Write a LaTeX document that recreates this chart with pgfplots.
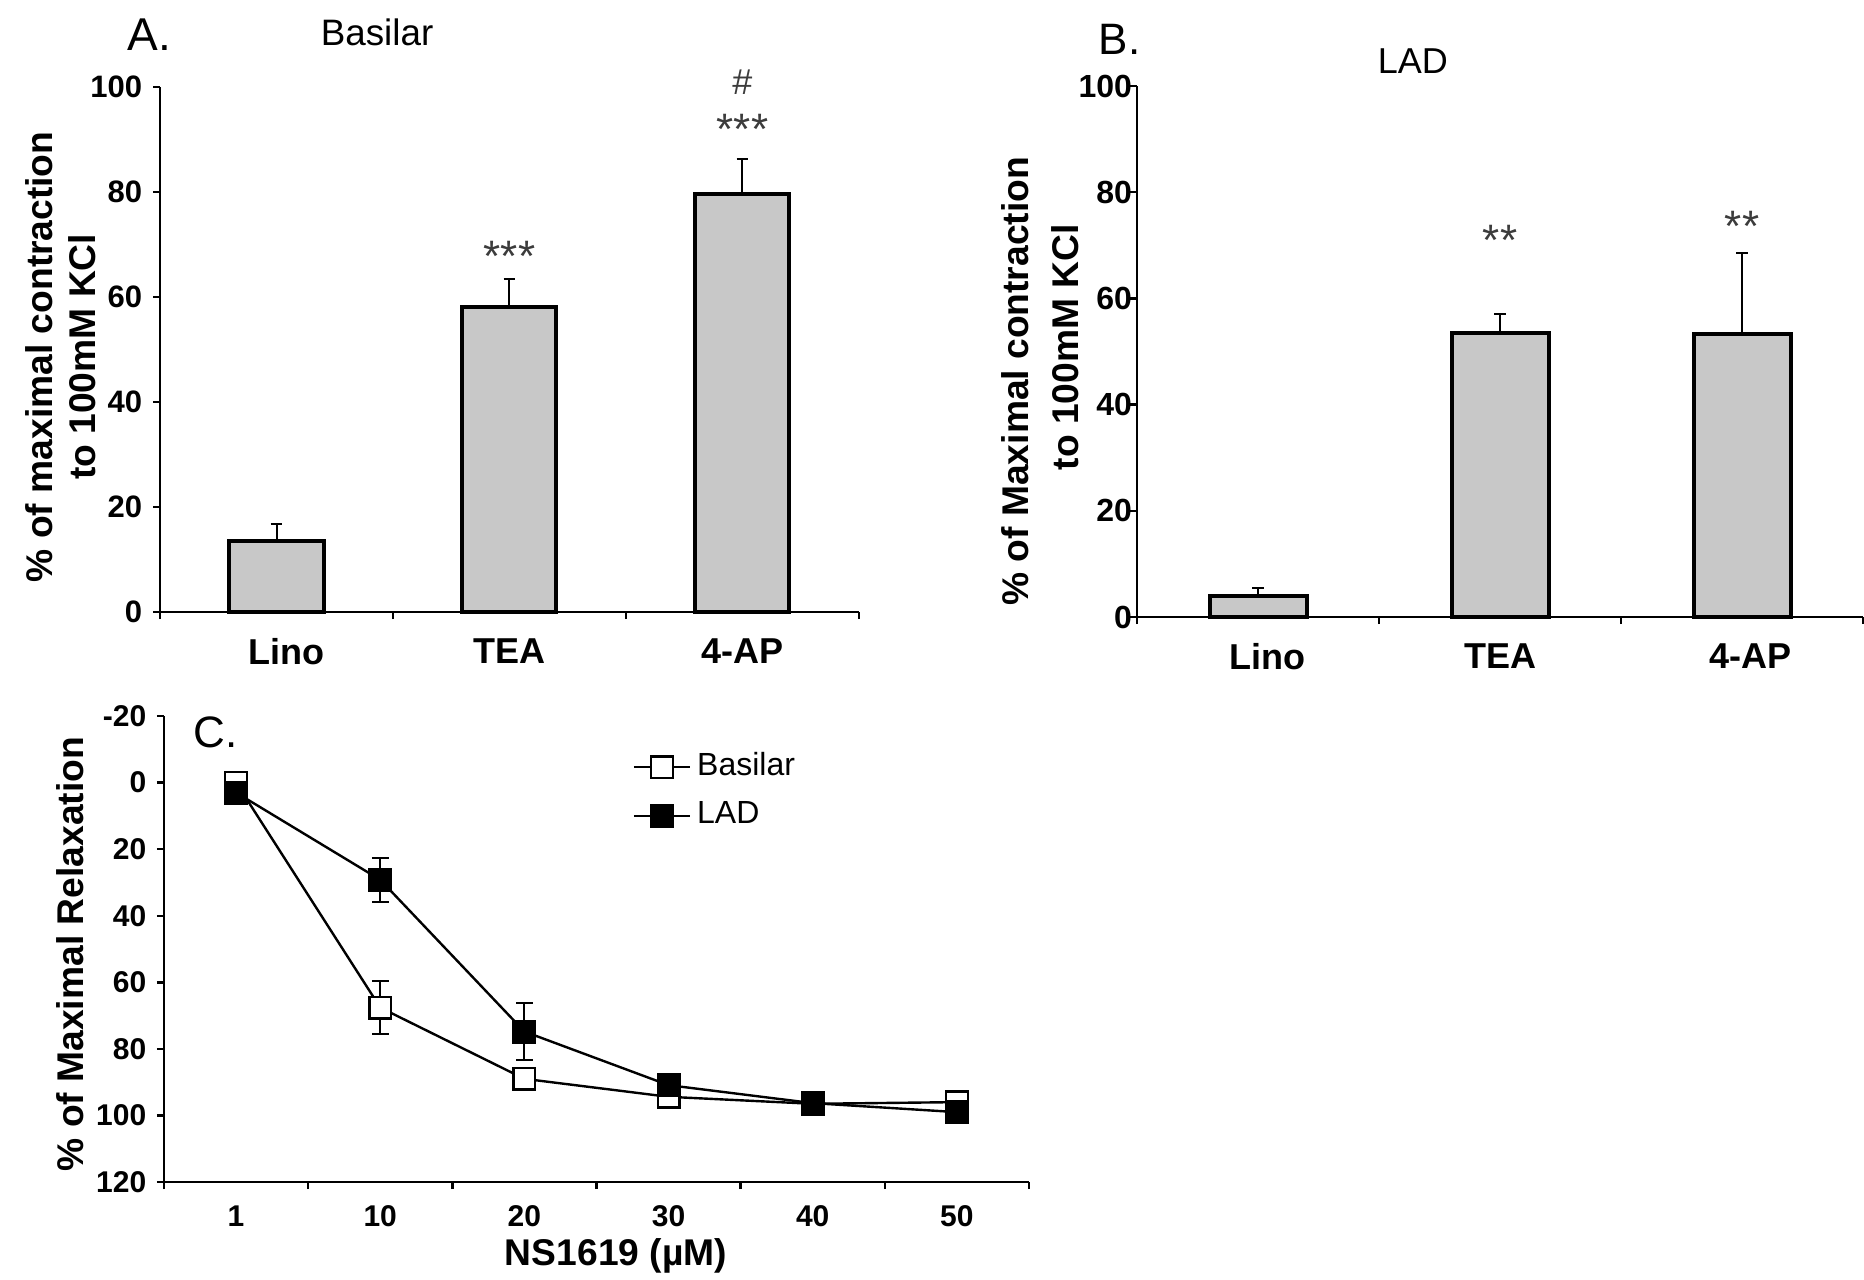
\documentclass[border=0pt]{standalone}
\usepackage{pgfplots}
\pgfplotsset{compat=1.18}
\usepackage{fontspec}
\setmainfont{Liberation Sans}
\definecolor{barfill}{RGB}{200,200,200}
\definecolor{stargray}{RGB}{60,60,60}
\begin{document}
\begin{tikzpicture}
\useasboundingbox (0pt,0pt) rectangle (466pt,319.75pt);
\pgfplotsset{
  panel/.style={
    scale only axis, anchor=south west, clip=false,
    axis lines*=left,
    axis line style={line width=0.6pt, black},
    tick style={black, line width=0.6pt},
    tick align=outside,
    major tick length=1.75pt,
    yticklabel style={font=\bfseries\fontsize{7.75}{9}\selectfont, inner sep=0pt, xshift=-2.5pt},
    xticklabels={},
  },
  cat/.style={
    extra x tick style={major tick length=0pt,
      xticklabel style={font=\bfseries\fontsize{9}{10}\selectfont, inner sep=0pt, anchor=north, yshift=-6.5pt}},
  },
}
% ---------- Panel A ----------
\begin{axis}[panel, cat,
  at={(40pt,166.75pt)}, width=174.75pt, height=131.25pt,
  xmin=-0.5, xmax=2.5, ymin=0, ymax=100,
  ytick={0,20,40,60,80,100}, yticklabels={0,20,40,60,80,100},
  xtick={-0.5,0.5,1.5,2.5},
  extra x ticks={0,1,2}, extra x tick labels={\hspace*{4.8pt}Lino,TEA,4-AP},
  ybar, bar width=23.5pt,
  ylabel={\% of maximal contraction\\to 100mM KCl},
  ylabel style={at={(axis description cs:-0.142,0.486)}, anchor=center, align=center,
    font=\bfseries\fontsize{9.3}{10.75}\selectfont},
]
\addplot[fill=barfill, draw=black, line width=1pt,
  error bars/.cd, y dir=plus, y explicit,
  error bar style={line width=0.5pt, black},
  error mark options={rotate=90, line width=0.5pt, mark size=1.45pt, black}]
  coordinates {(0,13.5) +- (0,3.2) (1,58.1) +- (0,5.3) (2,79.6) +- (0,6.6)};
\node[font=\fontsize{11}{12}\selectfont, text=stargray, anchor=base, inner sep=0pt] at (axis cs:1,64.8) {***};
\node[font=\fontsize{11}{12}\selectfont, text=stargray, anchor=base, inner sep=0pt] at (axis cs:2,89.1) {***};
\node[font=\fontsize{9}{10}\selectfont, text=stargray, anchor=base, inner sep=0pt] at (axis cs:2,98.6) {\#};
\end{axis}
% ---------- Panel B ----------
\begin{axis}[panel, cat,
  at={(284.25pt,165.5pt)}, width=181.5pt, height=132.75pt,
  xmin=-0.5, xmax=2.5, ymin=0, ymax=100,
  ytick={0,20,40,60,80,100}, yticklabels={0,20,40,60,80,100},
  yticklabel style={font=\bfseries\fontsize{8}{9}\selectfont, xshift=3.2pt},
  xtick={-0.5,0.5,1.5,2.5},
  extra x ticks={0,1,2}, extra x tick labels={\hspace*{4.8pt}Lino,TEA,\hspace*{4pt}4-AP},
  ybar, bar width=24.25pt,
  ylabel={\% of Maximal contraction\\\hspace*{17pt}to 100mM KCl},
  ylabel style={at={(axis description cs:-0.134,0.444)}, anchor=center, align=center,
    font=\bfseries\fontsize{9.3}{12.5}\selectfont},
]
\addplot[fill=barfill, draw=black, line width=1pt,
  error bars/.cd, y dir=plus, y explicit,
  error bar style={line width=0.5pt, black},
  error mark options={rotate=90, line width=0.5pt, mark size=1.45pt, black}]
  coordinates {(0,4.0) +- (0,1.5) (1,53.5) +- (0,3.5) (2,53.3) +- (0,15.3)};
\node[font=\fontsize{11}{12}\selectfont, text=stargray, anchor=base, inner sep=0pt] at (axis cs:1,68.0) {**};
\node[font=\fontsize{11}{12}\selectfont, text=stargray, anchor=base, inner sep=0pt] at (axis cs:2,70.8) {**};
\end{axis}
% ---------- Panel C ----------
\begin{axis}[panel,
  at={(41pt,24.25pt)}, width=216.25pt, height=116.5pt,
  xmin=-0.5, xmax=5.5, ymin=-20, ymax=120, y dir=reverse,
  ytick={-20,0,20,40,60,80,100,120}, yticklabels={-20,0,20,40,60,80,100,120},
  yticklabel style={font=\bfseries\fontsize{7.5}{9}\selectfont},
  xtick={-0.5,0.5,1.5,2.5,3.5,4.5,5.5},
  extra x ticks={0,1,2,3,4,5}, extra x tick labels={1,10,20,30,40,50},
  extra x tick style={major tick length=0pt,
    xticklabel style={font=\bfseries\fontsize{7.5}{9}\selectfont, inner sep=0pt, anchor=north, yshift=-5.75pt}},
  xlabel={NS1619 (µM)},
  xlabel style={at={(axis description cs:0.5225,-0.159)}, anchor=center,
    font=\bfseries\fontsize{9.3}{10}\selectfont},
  ylabel={\% of Maximal Relaxation},
  ylabel style={at={(axis description cs:-0.109,0.489)}, anchor=center,
    font=\bfseries\fontsize{9.3}{10}\selectfont},
  legend style={at={(0.541,0.936)}, anchor=north west, draw=none, fill=none,
    inner sep=0pt, row sep=2pt, font=\fontsize{8}{9}\selectfont,
    nodes={inner sep=1.5pt}},
  legend cell align=left,
  legend image code/.code={\draw[mark repeat=2, mark phase=2] plot coordinates {(0pt,0pt) (7pt,0pt) (14pt,0pt)};},
]
\addplot[black, line width=0.6pt, mark=square*, mark size=2.7pt,
  mark options={fill=white, draw=black, line width=0.6pt},
  error bars/.cd, y dir=both, y explicit,
  error bar style={line width=0.5pt, black},
  error mark options={rotate=90, line width=0.5pt, mark size=2.1pt, black}]
  coordinates {(0,0) +- (0,0.5) (1,67.6) +- (0,8) (2,89) +- (0,2.5) (3,94.4) +- (0,1.5) (4,96.5) +- (0,1) (5,96) +- (0,1)};
\addlegendentry{Basilar}
\addplot[black, line width=0.6pt, mark=square*, mark size=2.7pt,
  mark options={fill=black, draw=black, line width=0.6pt},
  error bars/.cd, y dir=both, y explicit,
  error bar style={line width=0.5pt, black},
  error mark options={rotate=90, line width=0.5pt, mark size=2.1pt, black}]
  coordinates {(0,3) +- (0,0.5) (1,29.2) +- (0,6.6) (2,74.8) +- (0,8.6) (3,90.9) +- (0,1) (4,96.3) +- (0,1) (5,99) +- (0,1)};
\addlegendentry{LAD}
\end{axis}
% ---------- Panel letters and titles ----------
\node[anchor=base west, inner sep=0pt, font=\fontsize{11.5}{13}\selectfont] at (31.75pt,307.25pt) {A.};
\node[anchor=base west, inner sep=0pt, font=\fontsize{9.2}{11}\selectfont] at (80pt,308.5pt) {Basilar};
\node[anchor=base west, inner sep=0pt, font=\fontsize{11}{13}\selectfont] at (274.5pt,306.25pt) {B.};
\node[anchor=base west, inner sep=0pt, font=\fontsize{9}{11}\selectfont] at (344.25pt,301.5pt) {LAD};
\node[anchor=base west, inner sep=0pt, font=\fontsize{11}{13}\selectfont] at (48.25pt,133pt) {C.};
\end{tikzpicture}
\end{document}
